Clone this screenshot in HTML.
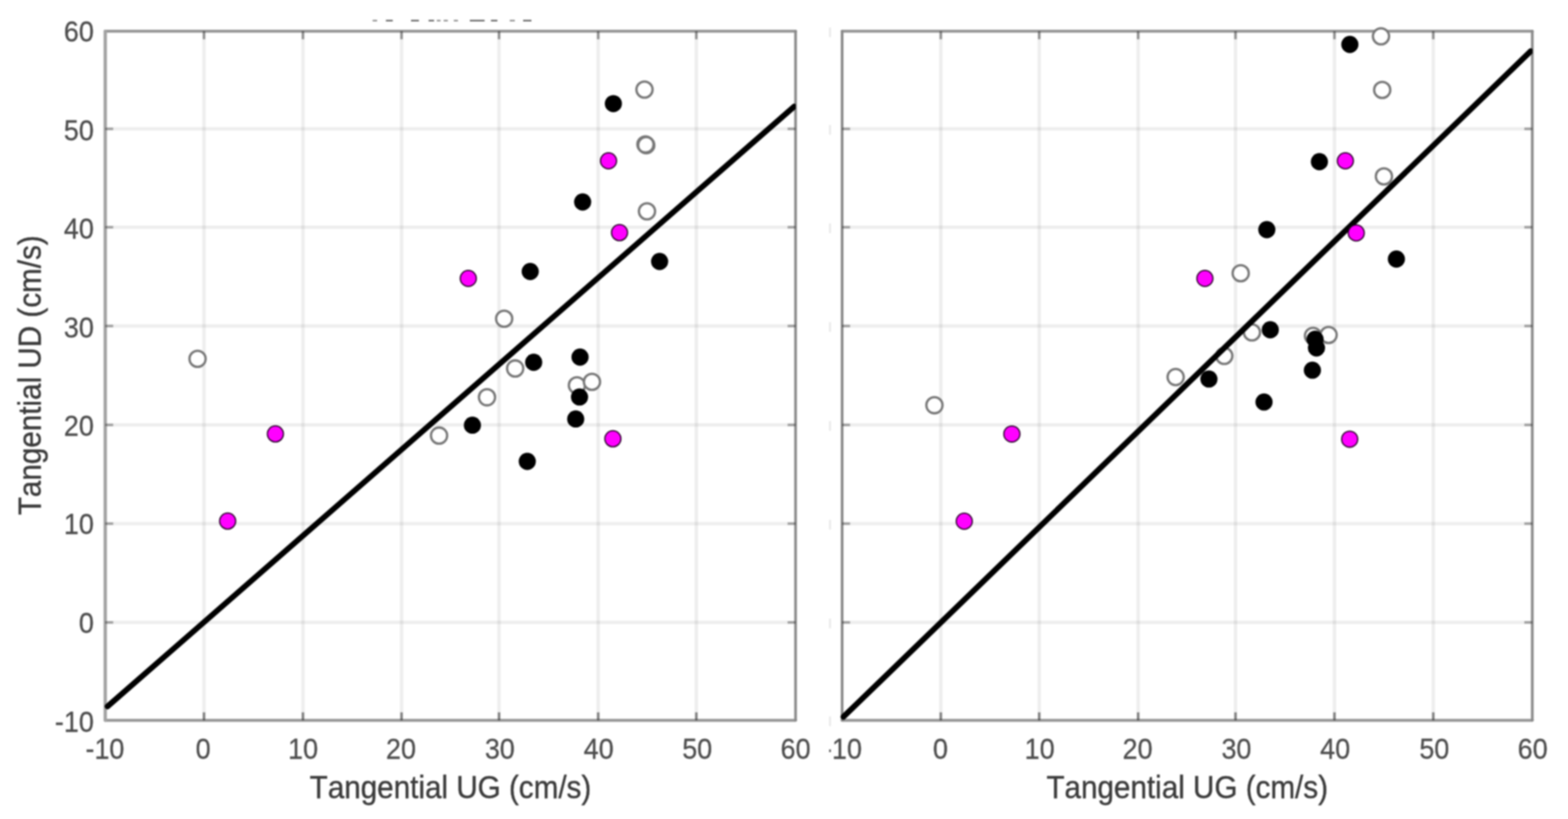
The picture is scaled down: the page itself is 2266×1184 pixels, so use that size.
<!DOCTYPE html>
<html lang="en"><head><meta charset="utf-8"><title>Tangential UD vs Tangential UG</title>
<style>
html,body{margin:0;padding:0;background:#fff;}
body{width:2266px;height:1184px;overflow:hidden;}
svg{display:block;filter:blur(1.05px);}
text{font-family:"Liberation Sans",sans-serif;fill:#3a3a3a;stroke:#3a3a3a;stroke-width:0.5px;stroke-linejoin:round;font-kerning:none;}
.tk{font-size:40.4px;}
.tk text{fill:#4c4c4c;stroke:#4c4c4c;stroke-width:0.35px;}
.lb{font-size:44.4px;}
.grid line{stroke:rgba(0,0,0,0.066);stroke-width:5.0;}
.ticks line{stroke:rgba(0,0,0,0.33);stroke-width:3.6;}
.ticks line.bt{stroke:rgba(0,0,0,0.46);}
.ticks line.tt{stroke:rgba(0,0,0,0.40);}
.frame line{fill:none;stroke:#969696;stroke-width:4.3;stroke-linecap:round;}
.frame line.vw{stroke:#a2a2a2;stroke-width:4.8;}
.frame line.vn{stroke:#8a8a8a;stroke-width:3.9;}
.fit{stroke:#000;stroke-width:8.2;fill:none;stroke-linecap:round;}
.op circle{fill:#fff;stroke:#777777;stroke-width:3.3;}
.bk circle{fill:#000;}
.mg circle{fill:#ff00ff;stroke:#2a002a;stroke-width:1.8;}
.ghost{stroke:#e6e6e6;stroke-width:2.4;}
</style></head><body>
<svg width="2266" height="1184" viewBox="0 0 2266 1184" role="img" aria-label="Scatter plots of Tangential UD versus Tangential UG">
<rect x="0" y="0" width="2266" height="1184" fill="#fff"/>
<defs>
<clipPath id="c0"><rect x="132.1" y="0" width="1018" height="1184"/></clipPath>
<clipPath id="c1"><rect x="1197" y="0" width="1017.8" height="1184"/></clipPath>
<clipPath id="cutminus"><rect x="1198.3" y="1050" width="200" height="70"/></clipPath>
</defs>
<g class="crop">
<rect x="538.5" y="28.7" width="6.5" height="2.2" fill="#8a8a8a"/>
<rect x="557.7" y="28.7" width="9.9" height="2.2" fill="#5c5c5c"/>
<rect x="594" y="28.7" width="11.4" height="2.2" fill="#5c5c5c"/>
<rect x="619.4" y="28.7" width="7.9" height="2.2" fill="#5c5c5c"/>
<rect x="631.3" y="28.7" width="5.3" height="2.2" fill="#8a8a8a"/>
<rect x="641.2" y="28.7" width="6" height="2.2" fill="#8a8a8a"/>
<rect x="655.8" y="28.7" width="6" height="2.2" fill="#8a8a8a"/>
<rect x="679" y="28.7" width="21.3" height="2.2" fill="#5c5c5c"/>
<rect x="709.5" y="28.7" width="9.3" height="2.2" fill="#5c5c5c"/>
<rect x="736.7" y="28.7" width="7.3" height="2.2" fill="#8a8a8a"/>
<rect x="756" y="28.7" width="12" height="2.2" fill="#5c5c5c"/>
</g>
<g>
<line class="ghost" x1="1199.5" y1="39.7" x2="1199.5" y2="53.7"/>
<line class="ghost" x1="1199.5" y1="180.8" x2="1199.5" y2="194.8"/>
<line class="ghost" x1="1199.5" y1="323" x2="1199.5" y2="337"/>
<line class="ghost" x1="1199.5" y1="465.8" x2="1199.5" y2="479.8"/>
<line class="ghost" x1="1199.5" y1="608.8" x2="1199.5" y2="622.8"/>
<line class="ghost" x1="1199.5" y1="751.5" x2="1199.5" y2="765.5"/>
<line class="ghost" x1="1199.5" y1="894.3" x2="1199.5" y2="908.3"/>
<line class="ghost" x1="1199.5" y1="1035.8" x2="1199.5" y2="1049.8"/>
</g>
<g id="panel0">
<g class="grid">
<line x1="294.8" y1="45.2" x2="294.8" y2="1041.3"/>
<line x1="437.8" y1="45.2" x2="437.8" y2="1041.3"/>
<line x1="580.3" y1="45.2" x2="580.3" y2="1041.3"/>
<line x1="721.2" y1="45.2" x2="721.2" y2="1041.3"/>
<line x1="864.5" y1="45.2" x2="864.5" y2="1041.3"/>
<line x1="1006.3" y1="45.2" x2="1006.3" y2="1041.3"/>
<line x1="152.1" y1="186.3" x2="1149.7" y2="186.3"/>
<line x1="152.1" y1="328.5" x2="1149.7" y2="328.5"/>
<line x1="152.1" y1="471.3" x2="1149.7" y2="471.3"/>
<line x1="152.1" y1="614.3" x2="1149.7" y2="614.3"/>
<line x1="152.1" y1="757" x2="1149.7" y2="757"/>
<line x1="152.1" y1="899.8" x2="1149.7" y2="899.8"/>
</g>
<g class="frame">
<line x1="152.1" y1="45.2" x2="1149.7" y2="45.2"/>
<line x1="152.1" y1="1041.3" x2="1149.7" y2="1041.3"/>
<line class="vw" x1="152.1" y1="45.2" x2="152.1" y2="1041.3"/>
<line class="vn" x1="1149.7" y1="45.2" x2="1149.7" y2="1041.3"/>
</g>
<g class="ticks">
<line class="tt" x1="294.8" y1="45.2" x2="294.8" y2="56.7"/>
<line class="bt" x1="294.8" y1="1041.3" x2="294.8" y2="1029.8"/>
<line class="tt" x1="437.8" y1="45.2" x2="437.8" y2="56.7"/>
<line class="bt" x1="437.8" y1="1041.3" x2="437.8" y2="1029.8"/>
<line class="tt" x1="580.3" y1="45.2" x2="580.3" y2="56.7"/>
<line class="bt" x1="580.3" y1="1041.3" x2="580.3" y2="1029.8"/>
<line class="tt" x1="721.2" y1="45.2" x2="721.2" y2="56.7"/>
<line class="bt" x1="721.2" y1="1041.3" x2="721.2" y2="1029.8"/>
<line class="tt" x1="864.5" y1="45.2" x2="864.5" y2="56.7"/>
<line class="bt" x1="864.5" y1="1041.3" x2="864.5" y2="1029.8"/>
<line class="tt" x1="1006.3" y1="45.2" x2="1006.3" y2="56.7"/>
<line class="bt" x1="1006.3" y1="1041.3" x2="1006.3" y2="1029.8"/>
<line x1="152.1" y1="186.3" x2="163.6" y2="186.3"/>
<line x1="1149.7" y1="186.3" x2="1138.2" y2="186.3"/>
<line x1="152.1" y1="328.5" x2="163.6" y2="328.5"/>
<line x1="1149.7" y1="328.5" x2="1138.2" y2="328.5"/>
<line x1="152.1" y1="471.3" x2="163.6" y2="471.3"/>
<line x1="1149.7" y1="471.3" x2="1138.2" y2="471.3"/>
<line x1="152.1" y1="614.3" x2="163.6" y2="614.3"/>
<line x1="1149.7" y1="614.3" x2="1138.2" y2="614.3"/>
<line x1="152.1" y1="757" x2="163.6" y2="757"/>
<line x1="1149.7" y1="757" x2="1138.2" y2="757"/>
<line x1="152.1" y1="899.8" x2="163.6" y2="899.8"/>
<line x1="1149.7" y1="899.8" x2="1138.2" y2="899.8"/>
</g>
<g class="op">
<circle cx="285.5" cy="518.75" r="11.7"/>
<circle cx="931.4" cy="129.5" r="11.7"/>
<circle cx="932.8" cy="208.8" r="11.7"/>
<circle cx="935" cy="305.5" r="11.7"/>
<circle cx="728.6" cy="460.75" r="11.7"/>
<circle cx="744.5" cy="532.7" r="11.7"/>
<circle cx="703.8" cy="574.3" r="11.7"/>
<circle cx="634.5" cy="629.7" r="11.7"/>
<circle cx="833.75" cy="557" r="11.7"/>
<circle cx="855.5" cy="552" r="11.7"/>
<circle cx="933.9" cy="209.9" r="11.7" style="fill:none"/>
</g>
<line class="fit" clip-path="url(#c0)" x1="155.5" y1="1021.2" x2="1147.6" y2="154.15"/>
<g class="bk">
<circle cx="886.4" cy="149.8" r="12.4"/>
<circle cx="842" cy="292" r="12.4"/>
<circle cx="766.25" cy="392.5" r="12.4"/>
<circle cx="953.25" cy="378" r="12.4"/>
<circle cx="771.25" cy="523.75" r="12.4"/>
<circle cx="838.25" cy="516.25" r="12.4"/>
<circle cx="837.5" cy="573.9" r="12.4"/>
<circle cx="832" cy="605.7" r="12.4"/>
<circle cx="682.7" cy="614.7" r="12.4"/>
<circle cx="762" cy="667" r="12.4"/>
</g>
<g class="mg">
<circle cx="879.4" cy="232.5" r="11.6"/>
<circle cx="895.3" cy="336.3" r="11.6"/>
<circle cx="676.75" cy="402.5" r="11.6"/>
<circle cx="398" cy="627.3" r="11.6"/>
<circle cx="329" cy="753.3" r="11.6"/>
<circle cx="885.7" cy="634.3" r="11.6"/>
</g>
<g class="tk" text-anchor="middle">
<text transform="translate(151.6 1097.3) scale(0.965 1.04)">-10</text>
<text transform="translate(293.7 1097.3) scale(0.965 1.04)">0</text>
<text transform="translate(438 1097.3) scale(0.965 1.04)">10</text>
<text transform="translate(579.5 1097.3) scale(0.965 1.04)">20</text>
<text transform="translate(722.3 1097.3) scale(0.965 1.04)">30</text>
<text transform="translate(865.2 1097.3) scale(0.965 1.04)">40</text>
<text transform="translate(1007.6 1097.3) scale(0.965 1.04)">50</text>
<text transform="translate(1149.7 1097.3) scale(0.965 1.04)">60</text>
</g>
<g class="tk" text-anchor="end">
<text transform="translate(135.6 60.3) scale(0.965 1.04)">60</text>
<text transform="translate(135.6 202.5) scale(0.965 1.04)">50</text>
<text transform="translate(135.6 344.7) scale(0.965 1.04)">40</text>
<text transform="translate(135.6 488) scale(0.965 1.04)">30</text>
<text transform="translate(135.6 630.1) scale(0.965 1.04)">20</text>
<text transform="translate(135.6 772.4) scale(0.965 1.04)">10</text>
<text transform="translate(135.6 914.6) scale(0.965 1.04)">0</text>
<text transform="translate(135.6 1057.7) scale(0.965 1.04)">-10</text>
</g>
<text class="lb" text-anchor="middle" transform="translate(59.2 542.5) rotate(-90) scale(0.965 1.03)">Tangential UD (cm/s)</text>
<text class="lb" text-anchor="middle" transform="translate(651 1153.6) scale(0.965 1.03)">Tangential UG (cm/s)</text>
</g>
<g id="panel1">
<g class="grid">
<line x1="1359.6" y1="45.2" x2="1359.6" y2="1041.3"/>
<line x1="1501.8" y1="45.2" x2="1501.8" y2="1041.3"/>
<line x1="1644.8" y1="45.2" x2="1644.8" y2="1041.3"/>
<line x1="1785.5" y1="45.2" x2="1785.5" y2="1041.3"/>
<line x1="1928.5" y1="45.2" x2="1928.5" y2="1041.3"/>
<line x1="2071.3" y1="45.2" x2="2071.3" y2="1041.3"/>
<line x1="1217" y1="186.3" x2="2214.4" y2="186.3"/>
<line x1="1217" y1="328.5" x2="2214.4" y2="328.5"/>
<line x1="1217" y1="471.3" x2="2214.4" y2="471.3"/>
<line x1="1217" y1="614.3" x2="2214.4" y2="614.3"/>
<line x1="1217" y1="757" x2="2214.4" y2="757"/>
<line x1="1217" y1="899.8" x2="2214.4" y2="899.8"/>
</g>
<g class="frame">
<line x1="1217" y1="45.2" x2="2214.4" y2="45.2"/>
<line x1="1217" y1="1041.3" x2="2214.4" y2="1041.3"/>
<line class="vn" x1="1217" y1="45.2" x2="1217" y2="1041.3"/>
<line class="vn" x1="2214.4" y1="45.2" x2="2214.4" y2="1041.3"/>
</g>
<g class="ticks">
<line class="tt" x1="1359.6" y1="45.2" x2="1359.6" y2="56.7"/>
<line class="bt" x1="1359.6" y1="1041.3" x2="1359.6" y2="1029.8"/>
<line class="tt" x1="1501.8" y1="45.2" x2="1501.8" y2="56.7"/>
<line class="bt" x1="1501.8" y1="1041.3" x2="1501.8" y2="1029.8"/>
<line class="tt" x1="1644.8" y1="45.2" x2="1644.8" y2="56.7"/>
<line class="bt" x1="1644.8" y1="1041.3" x2="1644.8" y2="1029.8"/>
<line class="tt" x1="1785.5" y1="45.2" x2="1785.5" y2="56.7"/>
<line class="bt" x1="1785.5" y1="1041.3" x2="1785.5" y2="1029.8"/>
<line class="tt" x1="1928.5" y1="45.2" x2="1928.5" y2="56.7"/>
<line class="bt" x1="1928.5" y1="1041.3" x2="1928.5" y2="1029.8"/>
<line class="tt" x1="2071.3" y1="45.2" x2="2071.3" y2="56.7"/>
<line class="bt" x1="2071.3" y1="1041.3" x2="2071.3" y2="1029.8"/>
<line x1="1217" y1="186.3" x2="1228.5" y2="186.3"/>
<line x1="2214.4" y1="186.3" x2="2202.9" y2="186.3"/>
<line x1="1217" y1="328.5" x2="1228.5" y2="328.5"/>
<line x1="2214.4" y1="328.5" x2="2202.9" y2="328.5"/>
<line x1="1217" y1="471.3" x2="1228.5" y2="471.3"/>
<line x1="2214.4" y1="471.3" x2="2202.9" y2="471.3"/>
<line x1="1217" y1="614.3" x2="1228.5" y2="614.3"/>
<line x1="2214.4" y1="614.3" x2="2202.9" y2="614.3"/>
<line x1="1217" y1="757" x2="1228.5" y2="757"/>
<line x1="2214.4" y1="757" x2="2202.9" y2="757"/>
<line x1="1217" y1="899.8" x2="1228.5" y2="899.8"/>
<line x1="2214.4" y1="899.8" x2="2202.9" y2="899.8"/>
</g>
<g class="op">
<circle cx="1350.4" cy="585.8" r="11.7"/>
<circle cx="1995.75" cy="52.5" r="11.7"/>
<circle cx="1997.5" cy="130" r="11.7"/>
<circle cx="2000" cy="255" r="11.7"/>
<circle cx="1793" cy="395" r="11.7"/>
<circle cx="1809.25" cy="480.5" r="11.7"/>
<circle cx="1769.25" cy="514.5" r="11.7"/>
<circle cx="1699" cy="545.1" r="11.7"/>
<circle cx="1897.5" cy="485.5" r="11.7"/>
<circle cx="1920" cy="484.25" r="11.7"/>
</g>
<line class="fit" clip-path="url(#c1)" x1="1218.9" y1="1036.3" x2="2212.1" y2="74.04"/>
<g class="bk">
<circle cx="1950.75" cy="64.25" r="12.4"/>
<circle cx="1906.75" cy="233.75" r="12.4"/>
<circle cx="1830.75" cy="332" r="12.4"/>
<circle cx="2018" cy="374.5" r="12.4"/>
<circle cx="1835.75" cy="476.75" r="12.4"/>
<circle cx="1900.5" cy="490.5" r="12.4"/>
<circle cx="1902.5" cy="503" r="12.4"/>
<circle cx="1896.6" cy="535.2" r="12.4"/>
<circle cx="1747.1" cy="547.9" r="12.4"/>
<circle cx="1826.7" cy="581.2" r="12.4"/>
</g>
<g class="mg">
<circle cx="1944.25" cy="232.5" r="11.6"/>
<circle cx="1960" cy="336.75" r="11.6"/>
<circle cx="1741.25" cy="402.5" r="11.6"/>
<circle cx="1462.3" cy="627.4" r="11.6"/>
<circle cx="1393.5" cy="753.5" r="11.6"/>
<circle cx="1950.5" cy="634.9" r="11.6"/>
</g>
<g class="tk" text-anchor="middle">
<g clip-path="url(#cutminus)"><text transform="translate(1217.5 1097.3) scale(0.965 1.04)">-10</text></g>
<text transform="translate(1359 1097.3) scale(0.965 1.04)">0</text>
<text transform="translate(1502.4 1097.3) scale(0.965 1.04)">10</text>
<text transform="translate(1643.9 1097.3) scale(0.965 1.04)">20</text>
<text transform="translate(1786.8 1097.3) scale(0.965 1.04)">30</text>
<text transform="translate(1929.4 1097.3) scale(0.965 1.04)">40</text>
<text transform="translate(2072.8 1097.3) scale(0.965 1.04)">50</text>
<text transform="translate(2215 1097.3) scale(0.965 1.04)">60</text>
</g>
<text class="lb" text-anchor="middle" transform="translate(1715.7 1153.6) scale(0.965 1.03)">Tangential UG (cm/s)</text>
</g>
</svg>
</body></html>
